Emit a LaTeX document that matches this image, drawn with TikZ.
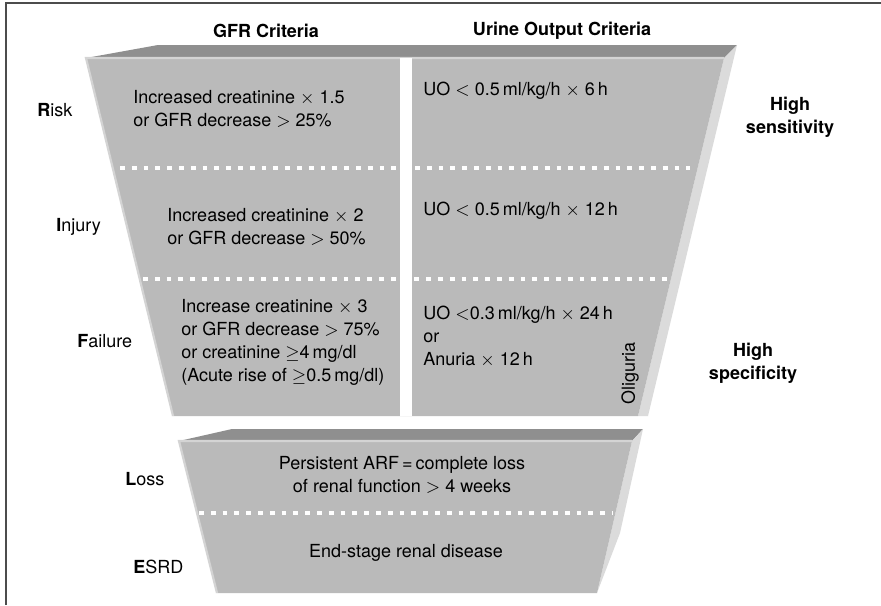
\documentclass[tikz,border=0pt]{standalone}
\usepackage{fontspec}
\setmainfont{TeX Gyre Heros}
\begin{document}
\begin{tikzpicture}[x=0.5pt,y=-0.5pt,
  face/.style={fill=black!27},
  topbar/.style={fill=black!44},
  side/.style={fill=black!14},
  rim/.style={draw=black!17,line width=1.1pt},
  sep/.style={draw=white,line width=2.3pt,dash pattern=on 2.35pt off 3.55pt},
  lab/.style={font=\fontsize{9}{11.5}\selectfont,inner sep=0pt,align=left},
  head/.style={lab,font=\fontsize{9}{11.5}\selectfont\bfseries,align=center}]
  \useasboundingbox (0,0) rectangle (881,605);
  \draw[black!70,line width=1pt] (6,605) -- (6,3) -- (881,3);
  % upper funnel: risk, injury, failure
  \coordinate (ua) at (86,58);  \coordinate (ub) at (158,45); \coordinate (uc) at (737,45); \coordinate (ud) at (724,58);
  \coordinate (ue) at (638,416); \coordinate (uf) at (648,416); \coordinate (ug) at (173,416);
  \fill[topbar] (ua)--(ub)--(uc)--(ud)--cycle;
  \fill[side] (ud)--(uc)--(uf)--(ue)--cycle;
  \fill[face] (ua)--(ud)--(ue)--(ug)--cycle;
  \draw[rim] (ug)--(ua)--(ud);
  \fill[white] (400,58) rectangle (412,416);
  \foreach \y/\xa/\xb in {168/120/690,279/143/672} \draw[sep] (\xa,\y)--(\xb,\y);
  % lower funnel: loss, ESRD
  \coordinate (la) at (179,441); \coordinate (lb) at (232,429); \coordinate (lc) at (643,429); \coordinate (ld) at (632,441);
  \coordinate (le) at (597,593); \coordinate (lf) at (620,533); \coordinate (lg) at (217,593);
  \fill[topbar] (la)--(lb)--(lc)--(ld)--cycle;
  \fill[side] (ld)--(lc)--(lf)--(le)--cycle;
  \fill[face] (la)--(ld)--(le)--(lg)--cycle;
  \draw[rim] (lg)--(la)--(ld);
  \draw[sep] (199,513)--(613,513);
  % headings
  \node[head] (gfrhead) at (266,31) {GFR Criteria};
  \node[head] (uohead) at (562,31) {Urine Output Criteria};
  \node[head] (sens) at (790,117) {High\\sensitivity};
  \node[head] (spec) at (753,363) {High\\specificity};
  % stage names
  \node[lab,anchor=west] (risk) at (37,110) {\textbf{R}isk};
  \node[lab,anchor=west] (injury) at (56,227) {\textbf{I}njury};
  \node[lab,anchor=west] (failure) at (77,341) {\textbf{F}ailure};
  \node[lab,anchor=west] (loss) at (125,479) {\textbf{L}oss};
  \node[lab,anchor=west] (esrd) at (133,567) {\textbf{E}SRD};
  % GFR criteria
  \node[lab,anchor=west] (gfrrisk) at (133,109) {Increased creatinine $\times$ 1.5\\or GFR decrease $>$ 25\%};
  \node[lab,anchor=west] (gfrinj) at (167,227) {Increased creatinine $\times$ 2\\or GFR decrease $>$ 50\%};
  \node[lab,anchor=west] (gfrfail) at (181,342) {Increase creatinine $\times$ 3\\or GFR decrease $>$ 75\%\\or creatinine $\geq$4\,mg/dl\\(Acute rise of $\geq$0.5\,mg/dl)};
  % urine output criteria
  \node[lab,anchor=west] (uorisk) at (423,91) {UO $<$ 0.5\,ml/kg/h $\times$ 6\,h};
  \node[lab,anchor=west] (uoinj) at (423,211) {UO $<$ 0.5\,ml/kg/h $\times$ 12\,h};
  \node[lab,anchor=west] (uofail) at (423,337) {UO $<$0.3\,ml/kg/h $\times$ 24\,h\\or\\Anuria $\times$ 12\,h};
  \node[lab,rotate=90] (olig) at (630,373) {Oliguria};
  % outcome
  \node[lab,align=center] (persist) at (402,475) {Persistent ARF\,=\,complete loss\\of renal function $>$ 4 weeks};
  \node[lab] (endstage) at (406,553) {End-stage renal disease};
\end{tikzpicture}
\end{document}
